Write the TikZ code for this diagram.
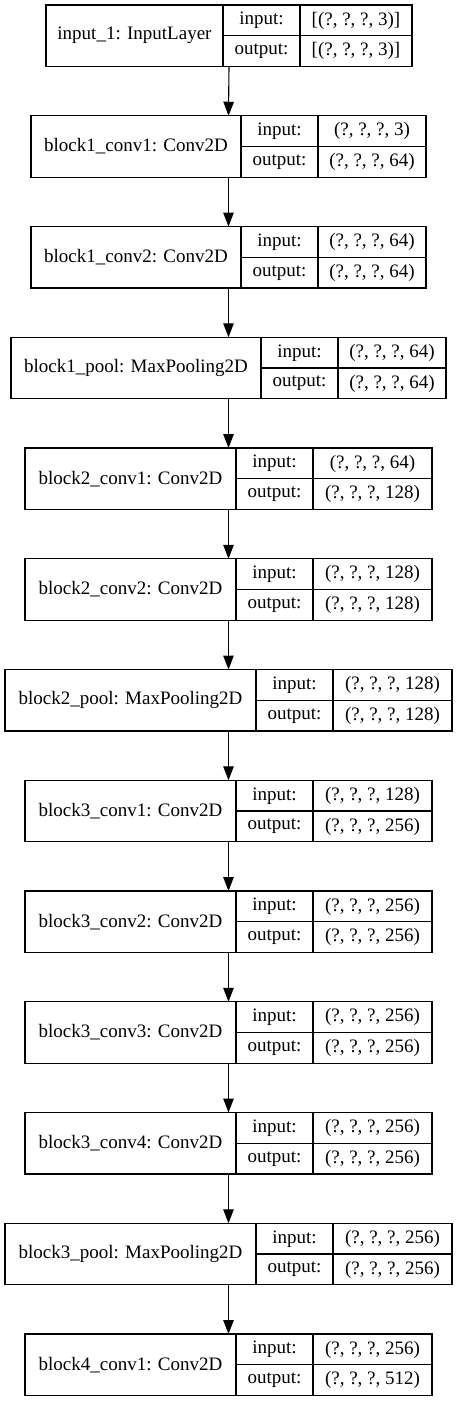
\documentclass[tikz,border=0pt]{standalone}
\usepackage{fontspec}
\setmainfont{Liberation Serif}
\usetikzlibrary{arrows.meta}
\newcommand\layerbox[9]{%
  \pgfmathsetmacro\lya{#2}%
  \pgfmathsetmacro\lyb{#2+61.5}%
  \pgfmathsetmacro\lym{#2+30.75}%
  \pgfmathsetmacro\lyi{#2+15.6}%
  \pgfmathsetmacro\lyo{#2+46.2}%
  \pgfmathsetmacro\lw{#6-#3}%
  \pgfmathsetmacro\lxl{(#3+#4)/2}%
  \pgfmathsetmacro\lxm{(#4+#5)/2}%
  \pgfmathsetmacro\lxr{(#5+#6)/2}%
  \node[layerst, minimum width=\lw pt, anchor=north west] (#1) at (#3,\lya) {};
  \draw[divst] (#4,\lya) -- (#4,\lyb);
  \draw[divst] (#5,\lya) -- (#5,\lyb);
  \draw[divst] (#4,\lym) -- (#6,\lym);
  \node[txtst] (#1-l) at (\lxl,\lym) {#7};
  \node[txtst] (#1-ik) at (\lxm,\lyi) {input:};
  \node[txtst] (#1-ok) at (\lxm,\lyo) {output:};
  \node[txtst] (#1-iv) at (\lxr,\lyi) {#8};
  \node[txtst] (#1-ov) at (\lxr,\lyo) {#9};
}
\begin{document}
\begin{tikzpicture}[x=1pt,y=-1pt,
  layerst/.style={draw=black, line width=1.1pt, minimum height=61.5pt, inner sep=0pt, outer sep=0pt},
  divst/.style={line width=1.1pt},
  txtst/.style={inner sep=0pt, font=\fontsize{19}{22}\selectfont},
  arrst/.style={line width=1.1pt, -{Triangle[length=14pt,width=10.5pt]}}]
\useasboundingbox[fill=white] (0,0) rectangle (457,1401);
\layerbox{n0}{5}{46}{223}{300}{412}{input\_1: InputLayer}{[(?, ?, ?, 3)]}{[(?, ?, ?, 3)]}
\layerbox{n1}{115.75}{31}{241}{318}{426}{block1\_conv1: Conv2D}{(?, ?, ?, 3)}{(?, ?, ?, 64)}
\layerbox{n2}{226.5}{31}{241}{318}{426}{block1\_conv2: Conv2D}{(?, ?, ?, 64)}{(?, ?, ?, 64)}
\layerbox{n3}{337.25}{11}{261}{338}{446}{block1\_pool: MaxPooling2D}{(?, ?, ?, 64)}{(?, ?, ?, 64)}
\layerbox{n4}{448}{25}{236}{313}{432}{block2\_conv1: Conv2D}{(?, ?, ?, 64)}{(?, ?, ?, 128)}
\layerbox{n5}{558.75}{25}{236}{313}{432}{block2\_conv2: Conv2D}{(?, ?, ?, 128)}{(?, ?, ?, 128)}
\layerbox{n6}{669.5}{5}{256}{333}{452}{block2\_pool: MaxPooling2D}{(?, ?, ?, 128)}{(?, ?, ?, 128)}
\layerbox{n7}{780.25}{25}{236}{313}{432}{block3\_conv1: Conv2D}{(?, ?, ?, 128)}{(?, ?, ?, 256)}
\layerbox{n8}{891}{25}{236}{313}{432}{block3\_conv2: Conv2D}{(?, ?, ?, 256)}{(?, ?, ?, 256)}
\layerbox{n9}{1001.75}{25}{236}{313}{432}{block3\_conv3: Conv2D}{(?, ?, ?, 256)}{(?, ?, ?, 256)}
\layerbox{n10}{1112.5}{25}{236}{313}{432}{block3\_conv4: Conv2D}{(?, ?, ?, 256)}{(?, ?, ?, 256)}
\layerbox{n11}{1223.25}{5}{256}{333}{452}{block3\_pool: MaxPooling2D}{(?, ?, ?, 256)}{(?, ?, ?, 256)}
\layerbox{n12}{1334}{25}{236}{313}{432}{block4\_conv1: Conv2D}{(?, ?, ?, 256)}{(?, ?, ?, 512)}
\foreach \a/\b in {n0/n1,n1/n2,n2/n3,n3/n4,n4/n5,n5/n6,n6/n7,n7/n8,n8/n9,n9/n10,n10/n11,n11/n12}
  \draw[arrst] (\a.south) -- (\b.north);
\end{tikzpicture}
\end{document}
